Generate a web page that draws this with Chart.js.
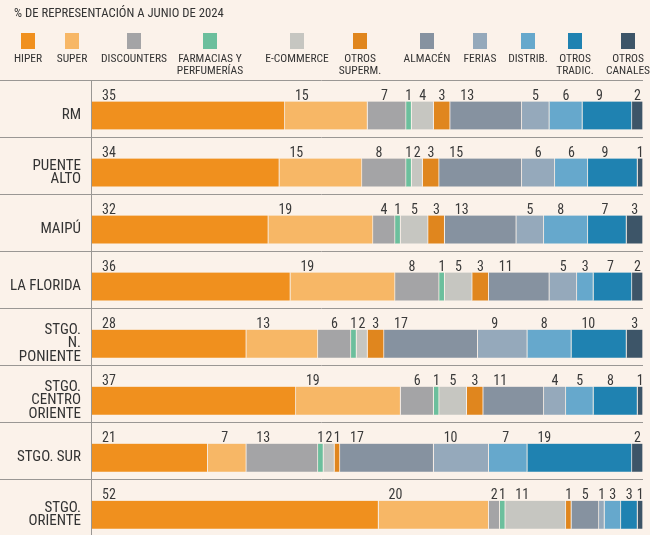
<!DOCTYPE html>
<html>
<head>
<meta charset="utf-8">
<script src="https://cdn.jsdelivr.net/npm/chart.js@4"></script>
<style>
  html, body { margin: 0; padding: 0; background: #fbf2ea; overflow: hidden; }
  canvas { display: block; }
</style>
</head>
<body>
<canvas id="myChart" width="650" height="553"></canvas>
<script>
const regions = [['RM'], ['PUENTE', 'ALTO'], ['MAIPÚ'], ['LA FLORIDA'], ['STGO.', 'N.', 'PONIENTE'],
                 ['STGO.', 'CENTRO', 'ORIENTE'], ['STGO. SUR'], ['STGO.', 'ORIENTE']];

// % share per channel, one value per region (same order as regions)
const hiper        = [35, 34, 32, 36, 28, 37, 21, 52];
const superm       = [15, 15, 19, 19, 13, 19, 7, 20];
const discounters  = [7, 8, 4, 8, 6, 6, 13, 2];
const farmacias    = [1, 1, 1, 1, 1, 1, 1, 1];
const ecommerce    = [4, 2, 5, 5, 2, 5, 2, 11];
const otrosSuperm  = [3, 3, 3, 3, 3, 3, 1, 1];
const almacen      = [13, 15, 13, 11, 17, 11, 17, 5];
const ferias       = [5, 6, 5, 5, 9, 4, 10, 1];
const distrib      = [6, 6, 8, 3, 8, 5, 7, 3];
const otrosTradic  = [9, 9, 7, 7, 10, 8, 19, 3];
const otrosCanales = [2, 1, 3, 2, 3, 1, 2, 1];

const channelNames = [['HIPER'], ['SUPER'], ['DISCOUNTERS'], ['FARMACIAS Y', 'PERFUMERÍAS'], ['E-COMMERCE'],
                      ['OTROS', 'SUPERM.'], ['ALMACÉN'], ['FERIAS'], ['DISTRIB.'], ['OTROS', 'TRADIC.'], ['OTROS', 'CANALES']];
const series = [hiper, superm, discounters, farmacias, ecommerce, otrosSuperm, almacen, ferias, distrib, otrosTradic, otrosCanales];
const colors = ['#f0901e', '#f7b766', '#a4a4a6', '#6cbf9d', '#c6c6c1', '#e0861e',
                '#8692a0', '#95a9bb', '#66a8cc', '#1f82b1', '#3d5568'];

const FONT = '"Roboto Condensed", "Open Sans", sans-serif';
Chart.defaults.font.family = FONT;

// legend item centres (x)
const legendX = [28, 72, 134, 210, 297, 360, 427, 480, 528, 575, 628];

const extras = {
    id: 'extras',
    beforeDatasetsDraw(chart) {
        const ctx = chart.ctx;
        const y = chart.scales.y;
        ctx.save();
        ctx.strokeStyle = '#9a9794';
        ctx.lineWidth = 1;
        regions.forEach((r, i) => {
            const sy = Math.round(y.getPixelForValue(i) - 36) + 0.5;
            ctx.beginPath();
            ctx.moveTo(0, sy);
            ctx.lineTo(chart.chartArea.right, sy);
            ctx.stroke();
        });
        ctx.beginPath();
        ctx.moveTo(chart.chartArea.left - 0.5, 80);
        ctx.lineTo(chart.chartArea.left - 0.5, chart.height);
        ctx.stroke();
        ctx.restore();
    },
    afterDatasetsDraw(chart) {
        const ctx = chart.ctx;
        ctx.save();
        // value labels above each segment
        ctx.fillStyle = '#3a3a3a';
        ctx.font = '14px ' + FONT;
        ctx.textAlign = 'center';
        ctx.textBaseline = 'middle';
        chart.data.datasets.forEach((ds, d) => {
            chart.getDatasetMeta(d).data.forEach((el, i) => {
                const w = el.x - el.base;
                ctx.fillText(ds.data[i], el.base + Math.min(w / 2, 17), el.y - 19);
            });
        });

        // subtitle
        ctx.textAlign = 'left';
        ctx.font = '12.7px ' + FONT;
        ctx.fillStyle = '#333';
        ctx.fillText('% DE REPRESENTACIÓN A JUNIO DE 2024', 14, 14);

        // legend
        ctx.textAlign = 'center';
        ctx.font = '11.5px ' + FONT;
        chart.data.datasets.forEach((ds, d) => {
            const cx = legendX[d];
            ctx.fillStyle = ds.backgroundColor;
            ctx.fillRect(cx - 7, 33, 14, 16);
            ctx.fillStyle = '#333';
            channelNames[d].forEach((line, k) => ctx.fillText(line, cx, 59 + k * 12));
        });
        ctx.restore();
    }
};

const ctx = document.getElementById('myChart').getContext('2d');
const myChart = new Chart(ctx, {
    type: 'bar',
    data: {
        labels: regions,
        datasets: series.map((vals, d) => ({
            label: channelNames[d].join(' '),
            data: vals,
            backgroundColor: colors[d],
            borderColor: '#f6eee6',
            borderWidth: { right: 1 },
            borderSkipped: false,
            barThickness: 28
        }))
    },
    options: {
        indexAxis: 'y',
        responsive: false,
        animation: false,
        layout: { padding: { top: 87, right: 7, bottom: 7, left: 0 } },
        plugins: { legend: { display: false }, tooltip: { enabled: false } },
        scales: {
            x: { stacked: true, min: 0, max: 100, display: false },
            y: {
                stacked: true,
                grid: { display: false },
                border: { display: false },
                ticks: { color: '#333', font: { size: 15, lineHeight: 0.9 }, padding: 3 },
                afterFit(scale) { scale.width = 92; }
            }
        }
    },
    plugins: [extras]
});
</script>
</body>
</html>
